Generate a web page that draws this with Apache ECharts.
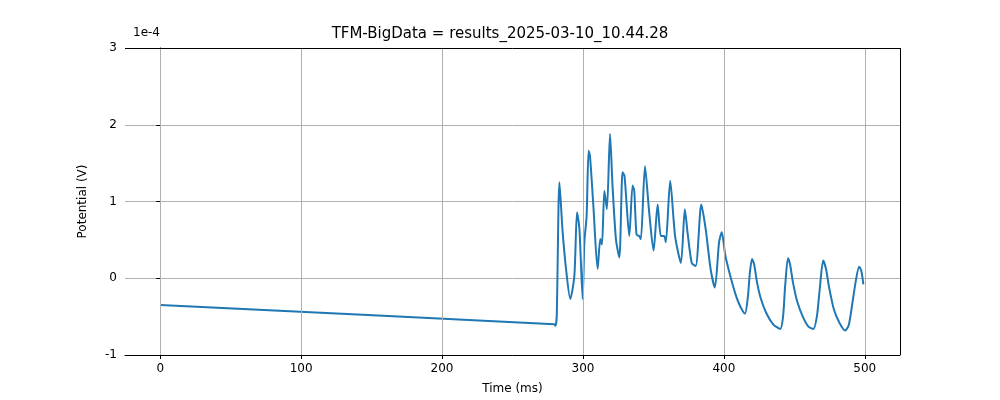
<!DOCTYPE html>
<html><head><meta charset="utf-8">
<script src="https://cdn.jsdelivr.net/npm/echarts@6/dist/echarts.min.js"></script>
<style>html,body{margin:0;padding:0;background:#fff}#c{width:1000px;height:400px}</style>
</head><body><div id="c"></div>
<script>
// time (ms) and potential (x1e-4 V)
const timeMs = [0,279.7,280.5,281.4,283.3,285.6,288,291,293.9,295.8,297.5,299.8,301,302.6,304,305,307.4,310.4,312.3,313.5,315.2,317,319.2,321,323.4,325.8,328.1,329.5,332.9,335.2,336.4,338,339.9,341.1,344,347,350.1,353,355.3,357.6,358.8,361.9,365.4,369.5,372.3,374.2,377.2,380,384,387.1,390.6,393.6,396.6,398.5,401,405,409,412,415,417,418.5,420,421.5,423.5,426,430,435,440,442,443.5,445.5,447,449,452,456,460,463.5,466,468,470.5,472.5,474.5,478,482,486,488.5,491,493.5,496,497.5,499];
const potential = [-0.35,-0.60,-0.62,-0.49,1.25,0.60,0.12,-0.27,0.03,0.86,0.64,-0.27,0.47,0.81,1.66,1.59,0.94,0.12,0.51,0.44,1.14,0.90,1.88,1.20,0.51,0.27,1.38,1.33,0.55,1.21,1.14,0.57,0.55,0.51,1.46,0.86,0.36,0.96,0.55,0.55,0.47,1.27,0.55,0.20,0.90,0.60,0.20,0.16,0.96,0.64,0.12,-0.12,0.47,0.60,0.30,0.0,-0.25,-0.38,-0.46,-0.25,0.08,0.25,0.18,-0.05,-0.25,-0.45,-0.60,-0.66,-0.50,-0.10,0.26,0.18,-0.05,-0.30,-0.50,-0.63,-0.66,-0.50,-0.15,0.23,0.12,-0.10,-0.40,-0.58,-0.68,-0.62,-0.35,-0.05,0.15,0.10,-0.08];
const xTicks=[0,100,200,300,400,500];
const yTicks=[-1,0,1,2,3];
const font='DejaVu Sans';
const chart=echarts.init(document.getElementById('c'));
chart.setOption({
  animation:false,
  title:{text:'TFM-BigData = results_2025-03-10_10.44.28',left:'center',top:22,textStyle:{fontFamily:font,fontSize:15,fontWeight:'normal',color:'#000'}},
  graphic:[{type:'text',left:133,top:27,style:{text:'1e-4',font:'12px DejaVu Sans',fill:'#000'}}],
  grid:{left:125,right:100,top:48,bottom:45},
  xAxis:{type:'value',min:-25,max:525,name:'Time (ms)',nameLocation:'middle',nameGap:28,
    nameTextStyle:{fontFamily:font,fontSize:12,color:'#000'},
    axisLine:{onZero:false,lineStyle:{color:'#000'}},
    axisTick:{show:true,length:4,customValues:xTicks,lineStyle:{color:'#000'}},
    axisLabel:{fontFamily:font,fontSize:12,color:'#000',customValues:xTicks},
    splitLine:{show:false}},
  yAxis:{type:'value',min:-1,max:3,interval:1,name:'Potential (V)',nameLocation:'middle',nameGap:36,
    nameTextStyle:{fontFamily:font,fontSize:12,color:'#000'},
    axisLine:{show:true,lineStyle:{color:'#000'}},axisTick:{show:true,length:4,lineStyle:{color:'#000'}},
    axisLabel:{fontFamily:font,fontSize:12,color:'#000'},
    splitLine:{show:true,lineStyle:{color:'#b0b0b0'}}},
  series:[
    {type:'line',data:timeMs.map((t,i)=>[t,potential[i]]),smooth:0.25,showSymbol:false,lineStyle:{color:'#1f77b4',width:2},z:3},
    {type:'line',data:[],markLine:{silent:true,symbol:'none',label:{show:false},lineStyle:{color:'#b0b0b0',type:'solid',width:1},data:xTicks.map(v=>({xAxis:v}))},z:1},
    {type:'line',data:[],markLine:{silent:true,symbol:'none',label:{show:false},lineStyle:{color:'#000',type:'solid',width:1},data:[{xAxis:525},{yAxis:3}]}}
  ]
});
</script></body></html>
